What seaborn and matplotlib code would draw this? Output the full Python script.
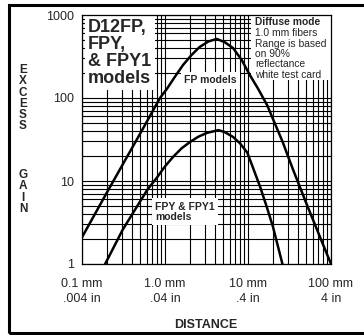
import numpy as np
import pandas as pd
import seaborn as sns
import matplotlib.pyplot as plt
from matplotlib.patches import Rectangle
from matplotlib.ticker import LogLocator, NullFormatter

# excess gain curves (distance in mm)
fp_dist = [0.1, 0.2, 0.5, 0.87, 1.06, 1.32, 1.65, 2.09, 2.6, 3.3, 4.2, 5.25, 6.6, 8.4,
           10.5, 13.3, 17, 26, 35, 50, 70, 100]
fp_gain = [2.1, 7.3, 37, 100, 130, 181, 250, 330, 410, 478, 515, 470, 400, 287,
           190, 128, 82, 30, 13.6, 5.5, 2.4, 1]

fpy_dist = [0.19, 0.31, 0.61, 0.8, 1.0, 1.25, 1.58, 2.0, 2.5, 3.2, 4.4, 5.2, 6.6, 8.0,
            9.8, 11.5, 14, 16.8, 20, 26]
fpy_gain = [1, 2.6, 7.8, 11, 15, 19.5, 24.7, 29.5, 34, 38, 41, 39, 34, 28.5,
            22, 14.4, 8.5, 4.9, 2.8, 1]

x_ticks = [0.1, 1, 10, 100]
x_labels = ['0.1 mm\n.004 in', '1.0 mm\n.04 in', '10 mm\n.4 in', '100 mm\n4 in']
y_ticks = [1, 10, 100, 1000]
y_labels = ['1', '10', '100', '1000']

sns.set_style('white')
plt.rcParams['font.family'] = ['Liberation Sans', 'DejaVu Sans']

fp = pd.DataFrame({'distance': fp_dist, 'gain': fp_gain})
fpy = pd.DataFrame({'distance': fpy_dist, 'gain': fpy_gain})

fig = plt.figure(figsize=(3.64, 3.35), dpi=100)
ax = fig.add_axes([82 / 364, 1 - 264 / 335, 249 / 364, 249 / 335])

for df in (fp, fpy):
    sns.lineplot(data=df, x='distance', y='gain', color='black', lw=1.8,
                 estimator=None, sort=False, ax=ax, zorder=3)

ax.set_xscale('log')
ax.set_yscale('log')
ax.set_xlim(0.1, 100)
ax.set_ylim(1, 1000)

for axis in (ax.xaxis, ax.yaxis):
    axis.set_minor_locator(LogLocator(base=10, subs=np.arange(2, 10)))
    axis.set_minor_formatter(NullFormatter())

ax.set_xticks(x_ticks, labels=x_labels, fontsize=9)
ax.set_yticks(y_ticks, labels=y_labels, fontsize=9)
for t in ax.get_xticklabels():
    t.set_linespacing(1.3)
ax.tick_params(which='major', direction='out', length=4, width=0.8, color='black')
ax.tick_params(axis='x', which='major', pad=6)
ax.tick_params(axis='y', which='major', pad=1.5)
ax.tick_params(which='minor', length=0)
ax.grid(True, which='both', color='black', lw=0.8)
for s in ax.spines.values():
    s.set_color('black')
    s.set_linewidth(0.9)
ax.set_xlabel('')
ax.set_ylabel('')

box = dict(facecolor='white', edgecolor='none', pad=2.5)
ax.text(0.024, 0.985, 'D12FP,\nFPY,\n& FPY1\nmodels', transform=ax.transAxes,
        ha='left', va='top', fontsize=13, fontweight='bold', linespacing=1.0,
        bbox=box, zorder=2.2)
ax.text(0.41, 0.758, 'FP models', transform=ax.transAxes, ha='left', va='top',
        fontsize=7.5, fontweight='bold', bbox=box, zorder=2.2)
ax.text(0.293, 0.25, 'FPY & FPY1\nmodels', transform=ax.transAxes, ha='left', va='top',
        fontsize=7.5, fontweight='bold', linespacing=1.0, bbox=box, zorder=2.2)

# note block in the top right corner
ax.add_patch(Rectangle((0.68, 0.74), 0.33, 0.27, transform=ax.transAxes,
                       facecolor='white', edgecolor='none', zorder=2.2))
ax.text(0.695, 0.992, 'Diffuse mode', transform=ax.transAxes, ha='left', va='top',
        fontsize=7.4, fontweight='bold', zorder=2.3)
ax.text(0.695, 0.947, '1.0 mm fibers\nRange is based\non 90%\nreflectance\nwhite test card',
        transform=ax.transAxes, ha='left', va='top', fontsize=7.4, linespacing=1.05,
        zorder=2.3)

fig.text(23 / 364, 1 - 64 / 335, 'E\nX\nC\nE\nS\nS', ha='center', va='top',
         fontsize=8.5, fontweight='bold', linespacing=0.92)
fig.text(23 / 364, 1 - 169 / 335, 'G\nA\nI\nN', ha='center', va='top',
         fontsize=8.5, fontweight='bold', linespacing=0.92)
fig.text(206 / 364, 1 - 328 / 335, 'DISTANCE', ha='center', va='baseline',
         fontsize=9, fontweight='bold')

fig.add_artist(Rectangle((9 / 364, 1 - 333 / 335), 1.2, 328 / 335,
                         transform=fig.transFigure, fill=False,
                         edgecolor='black', lw=2.2, clip_on=False))

fig.savefig('out.png', dpi=100)
